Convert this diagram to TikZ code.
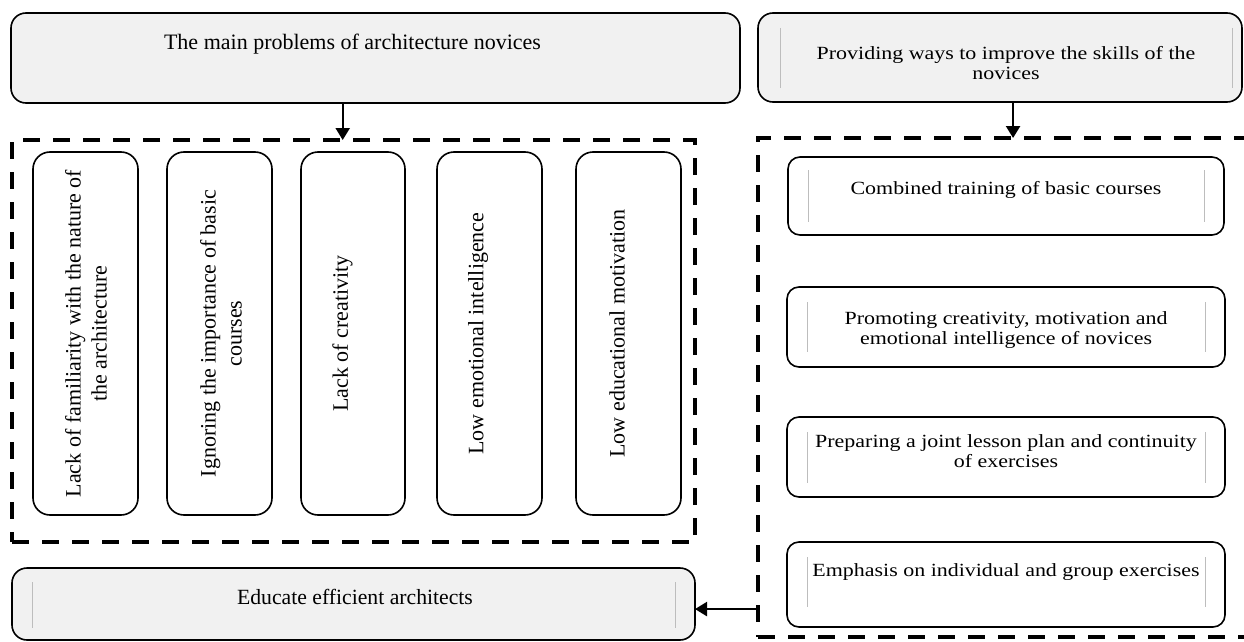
\documentclass[tikz,border=0pt]{standalone}
\usepackage{fontspec}
\setmainfont{Liberation Serif}
\newfontfamily\widefont[FakeStretch=1.18]{Liberation Serif}
\usetikzlibrary{arrows.meta,calc}
\definecolor{boxfill}{HTML}{F1F1F1}
\definecolor{thinline}{HTML}{BDBDBD}
\begin{document}
\begin{tikzpicture}[x=1pt,y=-1pt,
  every node/.style={inner sep=0pt,outer sep=0pt},
  roundbox/.style={draw=black,line width=1.6pt,rounded corners=15pt,rectangle},
  rightbox/.style={roundbox,rounded corners=12pt,minimum width=438pt},
  greybox/.style={roundbox,fill=boxfill},
  groupbox/.style={draw=black,line width=4.5pt,dash pattern=on 17pt off 13pt,rectangle},
  colbox/.style={roundbox,rounded corners=17pt,minimum width=105pt,minimum height=363pt},
  vtext/.style={rotate=90,align=center,font=\fontsize{22}{26}\selectfont},
  htext/.style={align=center,font=\widefont\fontsize{18.6}{20.5}\selectfont},
  arr/.style={line width=2.4pt,-{Triangle[length=12pt,width=14pt]}},
  faint/.style={draw=thinline,line width=0.8pt}]
\useasboundingbox (0,0) rectangle (1244,642);

% left column
\node[greybox,minimum width=729pt,minimum height=90pt] (TL) at (375.5,58) {};
\node[anchor=base,font=\fontsize{22}{26}\selectfont] (tTL) at (352.5,50) {The main problems of architecture novices};
\node[groupbox,minimum width=683pt,minimum height=402pt] (DL) at (353.5,341) {};

\node[colbox] (V1) at (85.5,333.5) {};
\node[colbox] (V2) at (219.5,333.5) {};
\node[colbox,minimum width=104pt] (V3) at (353,333.5) {};
\node[colbox] (V4) at (489.5,333.5) {};
\node[colbox] (V5) at (628.5,333.5) {};
\node[vtext] (tV1) at (86,333.5) {Lack of familiarity with the nature of\\the architecture};
\node[vtext] (tV2) at (221,333.5) {Ignoring the importance of basic\\courses};
\node[vtext] (tV3) at (342.5,333.5) {Lack of creativity};
\node[vtext] (tV4) at (478,333.5) {Low emotional intelligence};
\node[vtext] (tV5) at (617,333.5) {Low educational motivation};

\node[greybox,minimum width=683pt,minimum height=72pt] (BB) at (353.5,604) {};
\node[anchor=base,font=\fontsize{21.7}{26}\selectfont] (tBB) at (355,604) {Educate efficient architects};
\draw[faint] ($(BB.north west)+(20,14)$) -- ++(0,46);
\draw[faint] ($(BB.north east)+(-20,14)$) -- ++(0,46);

% right column
\node[greybox,minimum width=484pt,minimum height=89pt] (TR) at (1000,57.5) {};
\node[htext] (tTR) at (1006,63) {Providing ways to improve the skills of the\\novices};
\draw[faint] ($(TR.north west)+(22,15)$) -- ++(0,60);
\draw[faint] ($(TR.north east)+(-10,15)$) -- ++(0,60);
\node[groupbox,minimum width=492pt,minimum height=499pt] (DR) at (1004,387.5) {};

\node[rightbox,minimum width=436pt,minimum height=78pt] (A) at (1006,196) {};
\node[rightbox,minimum height=80pt] (B) at (1006,327) {};
\node[rightbox,minimum height=80pt] (C) at (1006,457) {};
\node[rightbox,minimum height=85pt] (D) at (1006,584.5) {};
\node[htext,anchor=base] (tA) at (1006,194) {Combined training of basic courses};
\node[htext] (tB) at (1006,330) {Promoting creativity, motivation and\\emotional intelligence of novices};
\node[htext] (tC) at (1006,451) {Preparing a joint lesson plan and continuity\\of exercises};
\node[htext,anchor=base] (tD) at (1006,576) {Emphasis on individual and group exercises};
\foreach \b/\t/\l in {A/13/52,B/15/50,C/15/51,D/15/50}{
  \draw[faint] ($(\b.north west)+(20,\t)$) -- ++(0,\l);
  \draw[faint] ($(\b.north east)+(-20,\t)$) -- ++(0,\l);
}

% connectors
\coordinate (a1) at ($(TL.south west)!0.455!(TL.south east)$);
\draw[arr] (a1) -- (a1 |- DL.north);
\coordinate (a2) at ($(TR.south west)!0.527!(TR.south east)$);
\draw[arr] (a2) -- (a2 |- DR.north);
\coordinate (a3) at ($(DR.north west)!0.944!(DR.south west)$);
\draw[arr] (a3) -- (a3 -| BB.east);
\end{tikzpicture}
\end{document}
